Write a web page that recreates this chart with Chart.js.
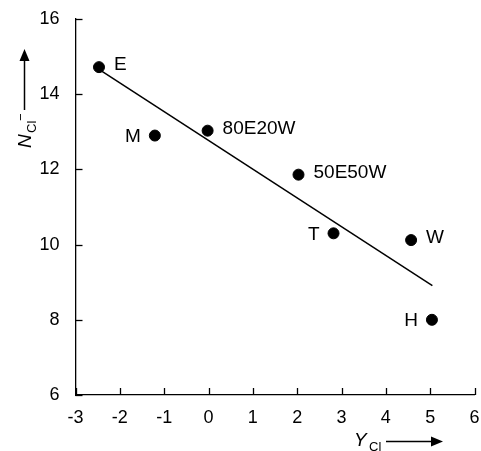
<!DOCTYPE html>
<html>
<head>
<meta charset="utf-8">
<script src="https://cdn.jsdelivr.net/npm/chart.js@4"></script>
<style>
  html, body { margin: 0; padding: 0; background: #fff; }
  #wrap { width: 481px; height: 451px; position: relative; }
</style>
</head>
<body>
<div id="wrap"><canvas id="chart"></canvas></div>
<script>
const sampleNames = ["E", "M", "80E20W", "50E50W", "T", "W", "H"];
const yCl = [-2.47, -1.21, -0.02, 2.03, 2.82, 4.57, 5.04];
const nCl = [14.72, 12.90, 13.03, 11.86, 10.30, 10.12, 8.0];
const labelSide = ["right", "left", "right", "right", "left", "right", "left"];
const fitX = [-2.47, 5.05];
const fitY = [14.66, 8.91];

const FONT = "Liberation Sans, Arial, sans-serif";

const points = yCl.map((x, i) => ({ x: x, y: nCl[i] }));
const fitLine = fitX.map((x, i) => ({ x: x, y: fitY[i] }));

const decorPlugin = {
    id: "decor",
    afterDraw(chart) {
        const ctx = chart.ctx;
        const xs = chart.scales.x, ys = chart.scales.y;
        ctx.save();
        ctx.strokeStyle = "#000";
        ctx.lineWidth = 1.3;
        // inward ticks
        xs.ticks.forEach(t => {
            const px = Math.round(xs.getPixelForValue(t.value)) + 0.5;
            ctx.beginPath();
            ctx.moveTo(px, ys.bottom);
            ctx.lineTo(px, ys.bottom - 7);
            ctx.stroke();
        });
        ys.ticks.forEach(t => {
            const py = Math.round(ys.getPixelForValue(t.value)) + 0.5;
            ctx.beginPath();
            ctx.moveTo(xs.left, py);
            ctx.lineTo(xs.left + 7, py);
            ctx.stroke();
        });

        // point labels
        ctx.fillStyle = "#000";
        ctx.font = "19px " + FONT;
        ctx.textBaseline = "middle";
        sampleNames.forEach((name, i) => {
            const px = xs.getPixelForValue(yCl[i]);
            const py = ys.getPixelForValue(nCl[i]);
            if (labelSide[i] === "right") {
                ctx.textAlign = "left";
                ctx.fillText(name, px + 15, py - 2);
            } else {
                ctx.textAlign = "right";
                ctx.fillText(name, px - 14, py + 1);
            }
        });

        // x axis title with arrow
        ctx.textAlign = "left";
        ctx.textBaseline = "alphabetic";
        ctx.font = "italic 19px " + FONT;
        ctx.fillText("Y", 354, 446);
        ctx.font = "13px " + FONT;
        ctx.fillText("Cl", 369, 451);
        ctx.lineWidth = 1.5;
        ctx.beginPath();
        ctx.moveTo(386, 441.5);
        ctx.lineTo(432, 441.5);
        ctx.stroke();
        ctx.beginPath();
        ctx.moveTo(443, 441.5);
        ctx.lineTo(431, 436.5);
        ctx.lineTo(431, 446.5);
        ctx.closePath();
        ctx.fill();

        // y axis title with arrow
        ctx.save();
        ctx.translate(31, 148);
        ctx.rotate(-Math.PI / 2);
        ctx.font = "italic 19px " + FONT;
        ctx.fillText("N", 0, 0);
        ctx.font = "13px " + FONT;
        ctx.fillText("Cl", 15, 5);
        ctx.fillText("\u2212", 27, -6);
        ctx.restore();
        ctx.beginPath();
        ctx.moveTo(24.5, 110);
        ctx.lineTo(24.5, 60);
        ctx.stroke();
        ctx.beginPath();
        ctx.moveTo(24.5, 49);
        ctx.lineTo(19.5, 61);
        ctx.lineTo(29.5, 61);
        ctx.closePath();
        ctx.fill();
        ctx.restore();
    }
};

new Chart(document.getElementById("chart"), {
    type: "scatter",
    data: {
        datasets: [
            {
                label: "samples",
                data: points,
                backgroundColor: "#000",
                borderColor: "#000",
                pointRadius: 5.5,
                pointHoverRadius: 5.5
            },
            {
                label: "fit",
                type: "line",
                data: fitLine,
                borderColor: "#000",
                borderWidth: 1.5,
                pointRadius: 0,
                fill: false
            }
        ]
    },
    options: {
        responsive: true,
        maintainAspectRatio: false,
        animation: false,
        events: [],
        layout: { padding: { top: 19, right: 5, left: 0, bottom: 0 } },
        plugins: {
            legend: { display: false },
            tooltip: { enabled: false }
        },
        scales: {
            x: {
                type: "linear",
                min: -3, max: 6,
                afterFit(scale) {
                    scale.height = 56;
                    scale.paddingLeft = 0;
                    scale.paddingRight = 0;
                },
                border: { color: "#000", width: 1.3 },
                grid: { display: false },
                ticks: {
                    stepSize: 1,
                    color: "#000",
                    padding: 4,
                    font: { family: FONT, size: 18 }
                }
            },
            y: {
                type: "linear",
                min: 6, max: 16,
                afterFit(scale) {
                    scale.width = 75.5;
                    scale.paddingTop = 0;
                    scale.paddingBottom = 0;
                },
                border: { color: "#000", width: 1.3 },
                grid: { display: false },
                ticks: {
                    stepSize: 2,
                    color: "#000",
                    padding: 8,
                    font: { family: FONT, size: 18 }
                }
            }
        }
    },
    plugins: [decorPlugin]
});
</script>
</body>
</html>
